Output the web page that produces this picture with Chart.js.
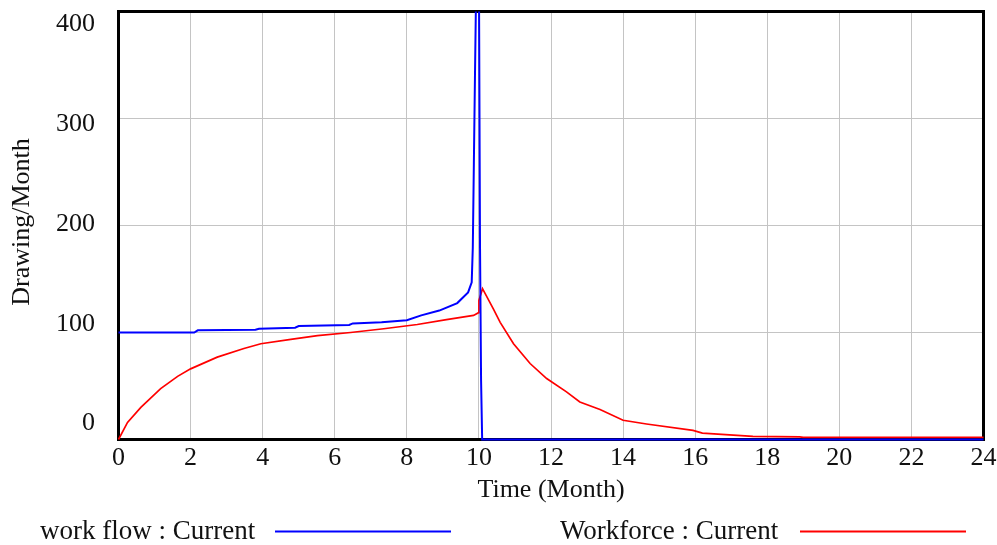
<!DOCTYPE html>
<html lang="en">
<head>
    <meta charset="UTF-8">
    <title>work flow / Workforce</title>
    <script src="https://cdn.jsdelivr.net/npm/chart.js"></script>
    <style>
        body { margin: 0; background: #fff; }
    </style>
</head>
<body>
    <canvas id="chart" width="997" height="545"></canvas>

    <script>
        // tick labels
        const xTicks = [0, 2, 4, 6, 8, 10, 12, 14, 16, 18, 20, 22, 24];
        const yTicks = [0, 100, 200, 300, 400];

        // work flow : Current
        const workFlowTime = [0, 2.1, 2.2, 3.8, 3.9, 4.9, 5.0, 6.4, 6.5, 7.3, 8.0, 8.4, 8.9, 9.4, 9.7,
            9.8, 9.83, 9.86, 9.89, 9.93, 10.0, 10.03, 10.06, 10.09, 24];
        const workFlow = [100, 100, 102, 102.5, 103.5, 104.5, 106, 107, 108.5, 109.5, 111.5, 116, 120.5, 127.5, 137.5,
            147, 179, 258, 338, 440, 440, 183, 55, 0, 0];

        // Workforce : Current
        const workforceTime = [0, 0.25, 0.62, 1.17, 1.64, 2.0, 2.74, 3.48, 3.95, 4.78, 5.52, 6.44, 7.36, 8.29, 9.1,
            9.85, 9.99, 10.0, 10.1, 10.4, 10.59, 10.96, 11.42, 11.88, 12.43, 12.8, 13.36, 14.0, 14.65,
            15.94, 16.2, 17.6, 18.9, 19.0, 24];
        const workforce = [0, 16, 30, 47.5, 59, 66, 77, 85, 89.5, 93.5, 97, 100, 103.5, 107.5, 112,
            116, 118.5, 130, 141, 122, 109.5, 89.5, 71, 57, 44.5, 35, 28, 18, 14.5,
            8.5, 6, 3, 2.5, 2, 2];

        const seriesLabels = ['work flow : Current', 'Workforce : Current'];
        const seriesColors = ['#0000ff', '#ff0000'];

        const toPoints = (xs, ys) => xs.map((x, i) => ({ x: x, y: ys[i] }));

        const FONT = '26px "Liberation Serif", "Times New Roman", serif';
        const LEGEND_FONT = '27px "Liberation Serif", "Times New Roman", serif';

        // frame, labels, titles and the legend row drawn like the original tool does
        const decorations = {
            id: 'decorations',
            beforeDatasetsDraw(chart) {
                const { ctx, chartArea: a } = chart;
                ctx.save();
                ctx.strokeStyle = '#000';
                ctx.lineWidth = 3;
                ctx.strokeRect(a.left, a.top, a.right - a.left, a.bottom - a.top);
                ctx.restore();
            },
            afterDraw(chart) {
                const { ctx, chartArea: a, scales } = chart;
                ctx.save();
                ctx.fillStyle = '#111';
                ctx.font = FONT;

                // y labels sit evenly between the frame edges, not on the grid lines
                ctx.textAlign = 'right';
                ctx.textBaseline = 'middle';
                const yTop = a.top + 13, yBottom = a.bottom - 16;
                yTicks.forEach(v => {
                    const y = yBottom - (v / 400) * (yBottom - yTop);
                    ctx.fillText(String(v), a.left - 23.5, y);
                });

                // x labels
                ctx.textAlign = 'center';
                xTicks.forEach(t => {
                    ctx.fillText(String(t), scales.x.getPixelForValue(t), a.bottom + 19);
                });

                // axis titles
                ctx.fillText('Time (Month)', (a.left + a.right) / 2, a.bottom + 51);
                ctx.save();
                ctx.translate(22, 222);
                ctx.rotate(-Math.PI / 2);
                ctx.fillText('Drawing/Month', 0, 0);
                ctx.restore();

                // legend
                const legend = [
                    { tx: 40, x1: 275, x2: 451 },
                    { tx: 560, x1: 800, x2: 966 }
                ];
                ctx.font = LEGEND_FONT;
                ctx.textAlign = 'left';
                legend.forEach((l, i) => {
                    ctx.fillStyle = '#111';
                    ctx.fillText(seriesLabels[i], l.tx, 532);
                    ctx.strokeStyle = seriesColors[i];
                    ctx.lineWidth = 2;
                    ctx.beginPath();
                    ctx.moveTo(l.x1, 531.5);
                    ctx.lineTo(l.x2, 531.5);
                    ctx.stroke();
                });
                ctx.restore();
            }
        };

        const gridStyle = { color: '#c4c4c4', lineWidth: 1, drawTicks: false };

        const config = {
            type: 'line',
            data: {
                datasets: [
                    {
                        label: seriesLabels[0],
                        data: toPoints(workFlowTime, workFlow),
                        borderColor: seriesColors[0],
                        borderWidth: 2,
                        pointRadius: 0,
                        tension: 0,
                        clip: { left: 3, top: 0, right: 3, bottom: 3 }
                    },
                    {
                        label: seriesLabels[1],
                        data: toPoints(workforceTime, workforce),
                        borderColor: seriesColors[1],
                        borderWidth: 1.7,
                        pointRadius: 0,
                        tension: 0,
                        clip: { left: 3, top: 0, right: 3, bottom: 3 }
                    }
                ]
            },
            options: {
                responsive: false,
                devicePixelRatio: 1,
                animation: false,
                layout: { padding: { left: 118.5, right: 13.5, top: 11.5, bottom: 105.5 } },
                plugins: {
                    legend: { display: false },
                    tooltip: { enabled: false }
                },
                scales: {
                    x: {
                        type: 'linear',
                        min: 0,
                        max: 24,
                        ticks: { stepSize: 2, display: false },
                        grid: gridStyle,
                        border: { display: false },
                        afterFit: s => { s.height = 0; }
                    },
                    y: {
                        min: 0,
                        max: 400,
                        ticks: { stepSize: 100, display: false },
                        grid: gridStyle,
                        border: { display: false },
                        afterFit: s => { s.width = 0; }
                    }
                }
            },
            plugins: [decorations]
        };

        new Chart(document.getElementById('chart'), config);
    </script>
</body>
</html>
